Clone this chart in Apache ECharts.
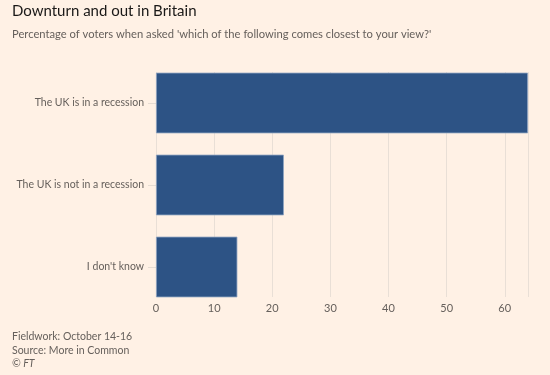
<!DOCTYPE html>
<html>
<head>
<meta charset="utf-8">
<script src="https://cdn.jsdelivr.net/npm/echarts@6/dist/echarts.min.js"></script>
<style>
  html, body { margin: 0; padding: 0; background: #FFF1E5; }
  #main { width: 550px; height: 375px; }
</style>
</head>
<body>
<div id="main"></div>
<script>
// 类别和数值
var categories = ['The UK is in a recession', 'The UK is not in a recession', "I don't know"];
var values = [64, 22, 14];
var xTicks = [0, 10, 20, 30, 40, 50, 60];

var chart = echarts.init(document.getElementById('main'));
var font = 'Lato, "Noto Sans", sans-serif';
var grey = '#66605c';

var option = {
  backgroundColor: '#FFF1E5',
  textStyle: { fontFamily: font },
  title: [
    {
      text: 'Downturn and out in Britain',
      left: 12, top: 4, padding: 0,
      textStyle: { fontSize: 15, fontWeight: 'normal', color: '#1a1817', fontFamily: font }
    },
    {
      text: "Percentage of voters when asked 'which of the following comes closest to your view?'",
      left: 12, top: 29, padding: 0,
      textStyle: { fontSize: 11.2, fontWeight: 'normal', color: grey, fontFamily: font }
    },
    {
      text: 'Fieldwork: October 14-16\nSource: More in Common',
      left: 12, top: 330, padding: 0,
      textStyle: { fontSize: 10.5, fontWeight: 'normal', color: grey, lineHeight: 14, fontFamily: font }
    },
    {
      text: '© FT',
      left: 12, top: 358, padding: 0,
      textStyle: { fontSize: 10.5, fontWeight: 'normal', fontStyle: 'italic', color: grey, fontFamily: font }
    }
  ],
  // grid 0: 柱子; grid 1: 网格线和刻度
  grid: [
    { left: 156, right: 22, top: 62, bottom: 67 },
    { left: 156, right: 22, top: 72, bottom: 78 }
  ],
  xAxis: [
    {
      type: 'value', gridIndex: 0, min: 0, max: 64,
      axisLine: { show: false }, axisTick: { show: false },
      axisLabel: { show: false }, splitLine: { show: false }
    },
    {
      type: 'value', gridIndex: 1, min: 0, max: 64, interval: 10,
      axisLine: { show: false },
      axisTick: { show: false },
      axisLabel: {
        color: grey,
        fontSize: 11,
        margin: 6,
        showMaxLabel: false,
        formatter: function (v) {
          return xTicks.indexOf(v) >= 0 ? v : '';
        }
      },
      splitLine: { lineStyle: { color: '#e9dfd6', width: 1 } }
    }
  ],
  yAxis: [
    {
      type: 'category', gridIndex: 0,
      inverse: true,
      data: categories,
      axisLine: { show: false },
      axisTick: { show: true, length: 8, alignWithLabel: true, lineStyle: { color: '#e6dcd3' } },
      axisLabel: { color: grey, fontSize: 10.5, margin: 12 }
    },
    {
      type: 'category', gridIndex: 1, inverse: true, data: categories, show: false
    }
  ],
  series: [{
    type: 'bar',
    xAxisIndex: 0,
    yAxisIndex: 0,
    data: values,
    barCategoryGap: '26%',
    itemStyle: {
      color: '#2D5385',
      borderColor: '#8ea3c2',
      borderWidth: 0.8
    },
    silent: true
  }]
};

chart.setOption(option);
</script>
</body>
</html>
